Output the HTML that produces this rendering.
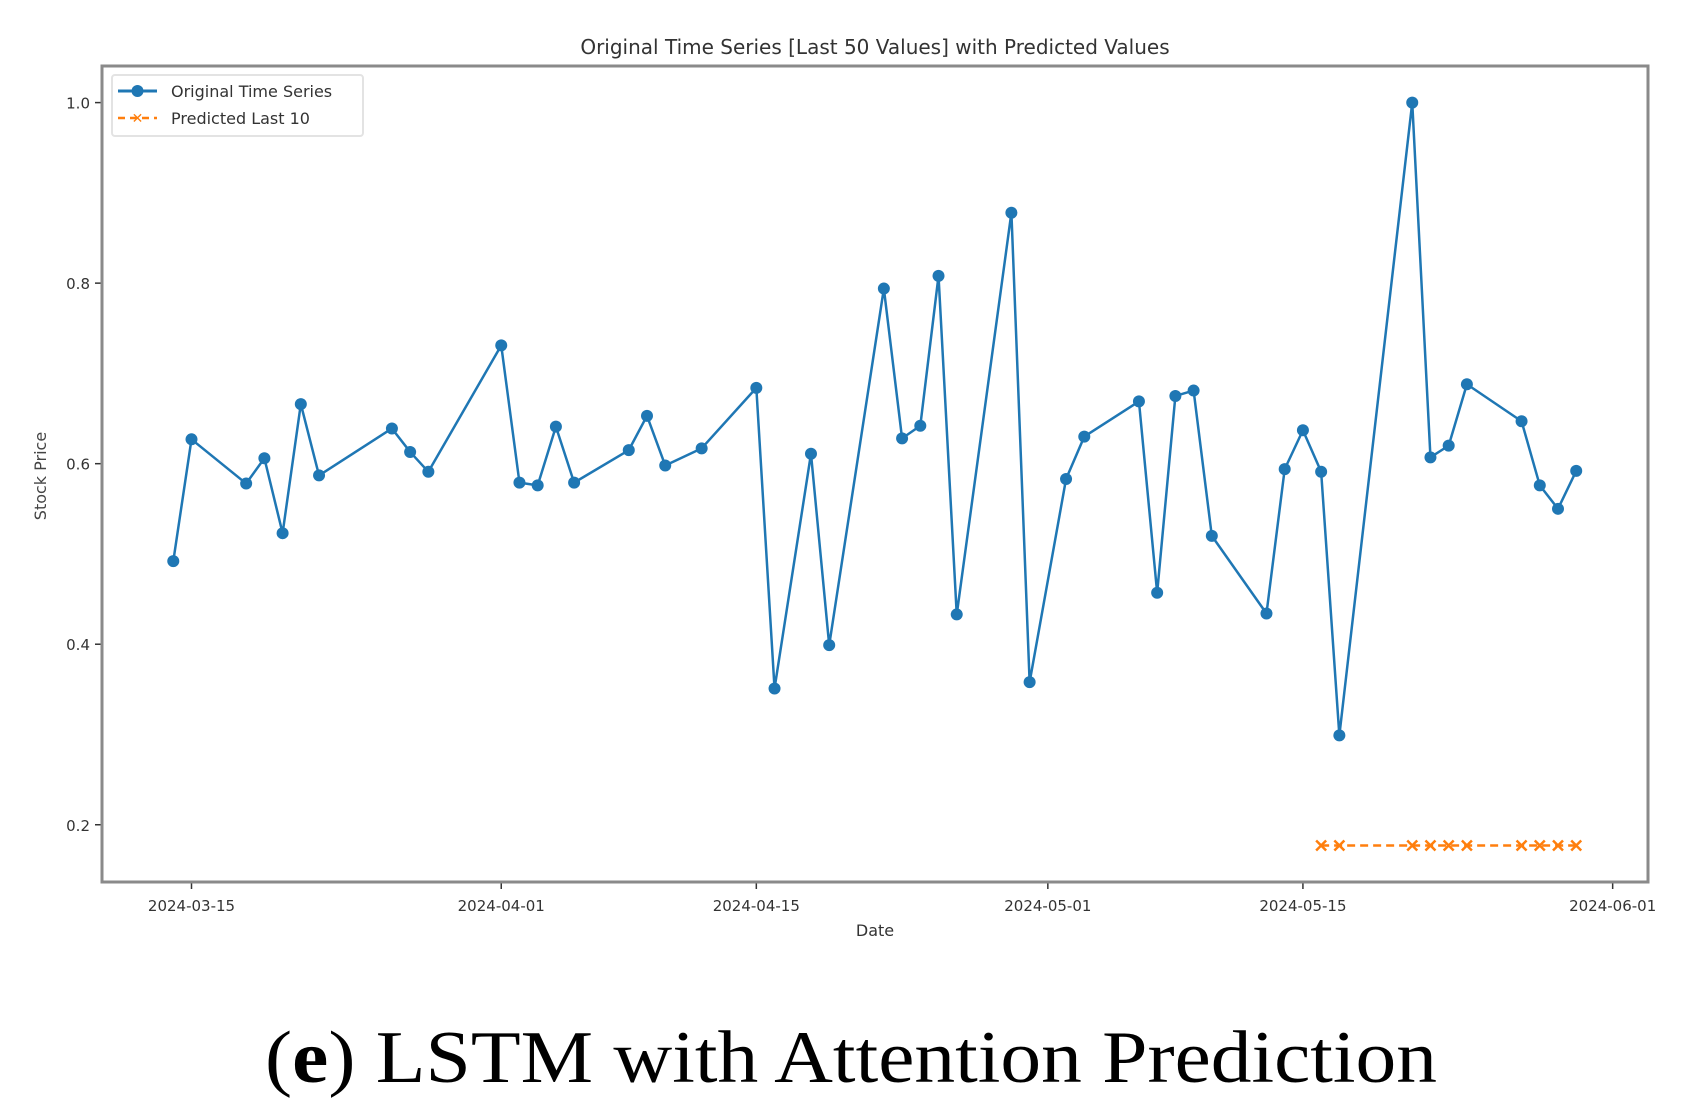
<!DOCTYPE html>
<html><head><meta charset="utf-8"><style>
html,body{margin:0;padding:0;background:#fff;}
svg{display:block;font-family:"DejaVu Sans","Liberation Sans",sans-serif;}
</style></head><body>
<svg id="chart" width="1687" height="1117" viewBox="0 0 1687 1117" xmlns="http://www.w3.org/2000/svg">
<rect width="1687" height="1117" fill="#fff"/>
<text x="875" y="54" font-size="20" fill="#333" text-anchor="middle">Original Time Series [Last 50 Values] with Predicted Values</text>
<g id="plot"></g>
<rect x="102" y="66" width="1546" height="816" fill="none" stroke="#8a8a8a" stroke-width="3"/>
<text x="875" y="936" font-size="16" fill="#333" text-anchor="middle">Date</text>
<text x="46" y="476" font-size="16" fill="#444" text-anchor="middle" transform="rotate(-90 46 476)">Stock Price</text>
<g>
<rect x="112" y="75" width="251" height="61" fill="#fff" stroke="#e3e3e3" stroke-width="2" rx="3"/>
<line x1="118" y1="91" x2="157" y2="91" stroke="#1f77b4" stroke-width="3"/>
<circle cx="137.5" cy="91" r="6" fill="#1f77b4"/>
<text x="171" y="97" font-size="16" fill="#333">Original Time Series</text>
<line x1="118" y1="118" x2="157" y2="118" stroke="#ff7f0e" stroke-width="2.5" stroke-dasharray="7,5"/>
<text x="137.5" y="123" font-size="14" fill="#ff7f0e" text-anchor="middle">✕</text>
<text x="171" y="124" font-size="16" fill="#333">Predicted Last 10</text>
</g>
<text x="851" y="1082" font-size="74" fill="#000" text-anchor="middle" textLength="1172" lengthAdjust="spacingAndGlyphs" font-family="'Liberation Serif',serif">(<tspan font-weight="bold">e</tspan>) LSTM with Attention Prediction</text>
</svg>
<script>
const dates = ["2024-03-14","2024-03-15","2024-03-18","2024-03-19","2024-03-20","2024-03-21","2024-03-22","2024-03-26","2024-03-27","2024-03-28","2024-04-01","2024-04-02","2024-04-03","2024-04-04","2024-04-05","2024-04-08","2024-04-09","2024-04-10","2024-04-12","2024-04-15","2024-04-16","2024-04-18","2024-04-19","2024-04-22","2024-04-23","2024-04-24","2024-04-25","2024-04-26","2024-04-29","2024-04-30","2024-05-02","2024-05-03","2024-05-06","2024-05-07","2024-05-08","2024-05-09","2024-05-10","2024-05-13","2024-05-14","2024-05-15","2024-05-16","2024-05-17","2024-05-21","2024-05-22","2024-05-23","2024-05-24","2024-05-27","2024-05-28","2024-05-29","2024-05-30"];
const values = [0.492,0.627,0.578,0.606,0.523,0.666,0.587,0.639,0.613,0.591,0.731,0.579,0.576,0.641,0.579,0.615,0.653,0.598,0.617,0.684,0.351,0.611,0.399,0.794,0.628,0.642,0.808,0.433,0.878,0.358,0.583,0.630,0.669,0.457,0.675,0.681,0.520,0.434,0.594,0.637,0.591,0.299,1.0,0.607,0.620,0.688,0.647,0.576,0.550,0.592];
const predDates = ["2024-05-16","2024-05-17","2024-05-21","2024-05-22","2024-05-23","2024-05-24","2024-05-27","2024-05-28","2024-05-29","2024-05-30"];
const predValues = [0.177,0.177,0.177,0.177,0.177,0.177,0.177,0.177,0.177,0.177];
const xTicks = ["2024-03-15","2024-04-01","2024-04-15","2024-05-01","2024-05-15","2024-06-01"];
const yTicks = [0.2,0.4,0.6,0.8,1.0];

const NS = "http://www.w3.org/2000/svg";
const base = Date.UTC(2024,2,15);
function dayOf(s){const p=s.split("-");return (Date.UTC(+p[0],+p[1]-1,+p[2])-base)/86400000;}
function xs(s){return 191.5 + dayOf(s)*18.22;}
function ys(v){return 102.6 + (1.0 - v)*902.7;}
const g = document.getElementById("plot");
function mk(tag, attrs){const e=document.createElementNS(NS,tag);for(const k in attrs)e.setAttribute(k,attrs[k]);g.appendChild(e);return e;}

xTicks.forEach(t=>{
  const x=xs(t);
  const tk=mk("line",{x1:x,y1:882,x2:x,y2:889,stroke:"#333","stroke-width":1.5});
  
  
  const lb=mk("text",{x:x,y:911,"font-size":15,fill:"#333","text-anchor":"middle"});
  lb.textContent=t;
  
  
});
yTicks.forEach(v=>{
  const y=ys(v);
  const tk=mk("line",{x1:95,y1:y,x2:102,y2:y,stroke:"#333","stroke-width":1.5});
  
  
  const lb=mk("text",{x:90,y:y+6,"font-size":15,fill:"#333","text-anchor":"end"});
  lb.textContent=v.toFixed(1);
  
  
});

const pts = dates.map((d,i)=>xs(d)+","+ys(values[i])).join(" ");
const line = mk("polyline",{points:pts,fill:"none",stroke:"#1f77b4","stroke-width":2.5,"stroke-linejoin":"round"});


dates.forEach((d,i)=>{
  const c=mk("circle",{cx:xs(d),cy:ys(values[i]),r:6,fill:"#1f77b4"});
  
  
});

const ppts = predDates.map((d,i)=>xs(d)+","+ys(predValues[i])).join(" ");
const pl = mk("polyline",{points:ppts,fill:"none",stroke:"#ff7f0e","stroke-width":2.5,"stroke-dasharray":"8,5"});


predDates.forEach((d,i)=>{
  const x=xs(d), y=ys(predValues[i]), s=5;
  const m=mk("path",{d:`M${x-s},${y-s}L${x+s},${y+s}M${x-s},${y+s}L${x+s},${y-s}`,stroke:"#ff7f0e","stroke-width":2.5,fill:"none"});
  
  
});
</script>
</body></html>
